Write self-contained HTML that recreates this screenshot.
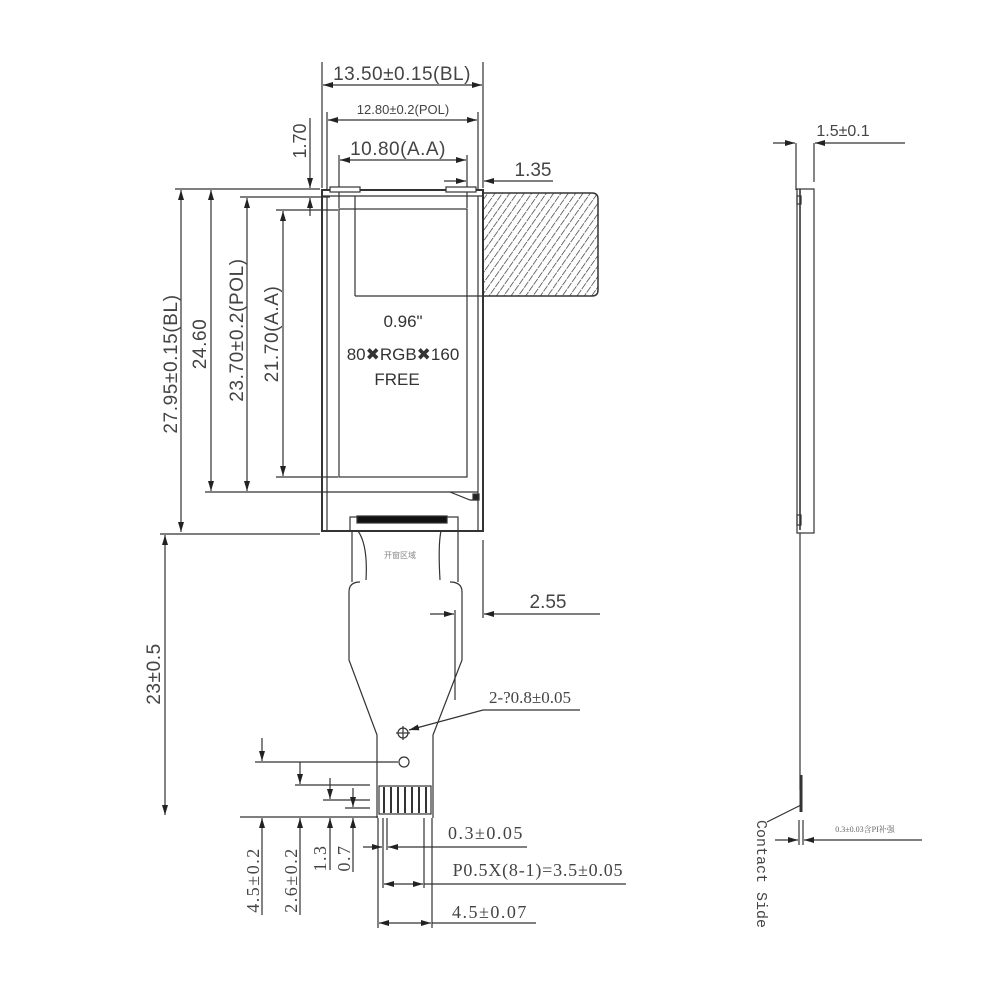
<!DOCTYPE html>
<html><head><meta charset="utf-8"><style>html,body{margin:0;padding:0;background:#fff}svg{display:block}</style></head>
<body>
<svg width="1002" height="1002" viewBox="0 0 1002 1002" xmlns="http://www.w3.org/2000/svg" font-family="Liberation Sans, DejaVu Sans, sans-serif" fill="none" stroke="#333" stroke-width="1.2">
<defs>
<marker id="a" viewBox="0 0 10 6" refX="10" refY="3" markerWidth="10" markerHeight="6" orient="auto-start-reverse" markerUnits="userSpaceOnUse"><path d="M0,0L10,3L0,6z" fill="#222" stroke="none"/></marker>
<pattern id="h" width="6" height="8" patternUnits="userSpaceOnUse" patternTransform="rotate(35)"><line x1="0" y1="0" x2="0" y2="8" stroke="#333" stroke-width="1.4" stroke-dasharray="7 1"/></pattern>
</defs>
<!-- top dims -->
<line x1="322" y1="62" x2="322" y2="188"/><line x1="483" y1="62" x2="483" y2="188"/>
<line x1="323" y1="85" x2="482" y2="85" marker-start="url(#a)" marker-end="url(#a)"/>
<text x="402" y="80" font-size="19" letter-spacing="0.5" fill="#444" stroke="none" text-anchor="middle">13.50±0.15(BL)</text>
<line x1="327" y1="112" x2="327" y2="190"/><line x1="478" y1="112" x2="478" y2="190"/>
<line x1="328" y1="120" x2="477" y2="120" marker-start="url(#a)" marker-end="url(#a)"/>
<text x="403" y="114" font-size="13" fill="#444" stroke="none" text-anchor="middle">12.80±0.2(POL)</text>
<line x1="339" y1="155" x2="339" y2="208"/><line x1="467" y1="155" x2="467" y2="208"/>
<line x1="340" y1="160" x2="466" y2="160" marker-start="url(#a)" marker-end="url(#a)"/>
<text x="398" y="155" font-size="19" letter-spacing="0.5" fill="#444" stroke="none" text-anchor="middle">10.80(A.A)</text>
<line x1="444" y1="181" x2="466" y2="181" marker-end="url(#a)"/>
<line x1="553" y1="181" x2="484" y2="181" marker-end="url(#a)"/>
<text x="533" y="176" font-size="19" fill="#444" stroke="none" text-anchor="middle">1.35</text>
<line x1="310" y1="118" x2="310" y2="188" marker-end="url(#a)"/>
<line x1="310" y1="216" x2="310" y2="198" marker-end="url(#a)"/>
<text transform="translate(306,141) rotate(-90)" font-size="18" fill="#444" stroke="none" text-anchor="middle">1.70</text>
<!-- panel -->
<rect x="322" y="190" width="161" height="341" stroke-width="2"/>
<line x1="322" y1="196" x2="483" y2="196"/>
<line x1="327" y1="196" x2="327" y2="531"/>
<line x1="478" y1="196" x2="478" y2="531"/>
<rect x="339" y="209" width="128" height="268"/>
<rect x="330" y="187" width="30" height="5" fill="#fff"/><rect x="446" y="187" width="30" height="5" fill="#fff"/>
<line x1="355" y1="196" x2="355" y2="296"/><line x1="355" y1="296" x2="483" y2="296"/>
<path d="M483,193 H592 Q598,193 598,199 V290 Q598,296 592,296 H483 Z" fill="url(#h)" stroke-width="1.5"/>
<line x1="322" y1="492" x2="478" y2="492"/>
<path d="M450,492 L470,500 L478,500" /><rect x="473" y="494" width="6" height="6" fill="#222"/>
<text x="403" y="327" font-size="17" fill="#333" stroke="none" text-anchor="middle">0.96"</text>
<text x="403" y="360" font-size="17" fill="#333" stroke="none" text-anchor="middle">80✖RGB✖160</text>
<text x="397" y="385" font-size="17" fill="#333" stroke="none" text-anchor="middle">FREE</text>
<!-- left dims -->
<line x1="175" y1="189" x2="320" y2="189"/><line x1="240" y1="197" x2="330" y2="197"/>
<line x1="276" y1="210" x2="338" y2="210"/><line x1="276" y1="477" x2="338" y2="477"/>
<line x1="205" y1="492" x2="322" y2="492"/><line x1="160" y1="534" x2="320" y2="534"/>
<line x1="181" y1="190" x2="181" y2="532" marker-start="url(#a)" marker-end="url(#a)"/>
<line x1="211" y1="190" x2="211" y2="491" marker-start="url(#a)" marker-end="url(#a)"/>
<line x1="247" y1="198" x2="247" y2="491" marker-start="url(#a)" marker-end="url(#a)"/>
<line x1="283" y1="211" x2="283" y2="476" marker-start="url(#a)" marker-end="url(#a)"/>
<g fill="#444" stroke="none" font-size="19" letter-spacing="0.6" text-anchor="middle">
<text transform="translate(177,364) rotate(-90)">27.95±0.15(BL)</text>
<text transform="translate(206,344) rotate(-90)">24.60</text>
<text transform="translate(243,330) rotate(-90)">23.70±0.2(POL)</text>
<text transform="translate(278,334) rotate(-90)">21.70(A.A)</text>
<text transform="translate(160,674) rotate(-90)">23±0.5</text>
</g>
<line x1="165" y1="535" x2="165" y2="815" marker-start="url(#a)" marker-end="url(#a)"/>
<!-- FPC -->
<rect x="350" y="517" width="108" height="14"/>
<rect x="357" y="516" width="90" height="7" fill="#111"/>
<path d="M352,531 V582 M458,531 V582"/>
<path d="M358,531 Q368,545 366,580 M441,531 Q438,545 440,580"/>
<path d="M360,582 Q349,582 349,592 V660 L377,735 V818 M450,582 Q462,582 462,592 V660 L433,735 V818"/>
<text x="400" y="558" font-size="8" fill="#888" stroke="none" text-anchor="middle">开窗区域</text>
<circle cx="403" cy="733" r="5"/><line x1="396" y1="733" x2="410" y2="733"/><line x1="403" y1="726" x2="403" y2="740"/>
<circle cx="404" cy="762" r="5"/>
<rect x="379" y="786" width="52" height="28" fill="#fff"/>
<g stroke-width="2"><line x1="384" y1="787" x2="384" y2="813"/><line x1="391" y1="787" x2="391" y2="813"/><line x1="398" y1="787" x2="398" y2="813"/><line x1="405" y1="787" x2="405" y2="813"/><line x1="412" y1="787" x2="412" y2="813"/><line x1="419" y1="787" x2="419" y2="813"/><line x1="426" y1="787" x2="426" y2="813"/></g>
<!-- 2.55 -->
<line x1="483" y1="540" x2="483" y2="618"/><line x1="455" y1="610" x2="455" y2="700"/>
<line x1="430" y1="614" x2="454" y2="614" marker-end="url(#a)"/>
<line x1="600" y1="614" x2="484" y2="614" marker-end="url(#a)"/>
<text x="548" y="608" font-size="19" fill="#444" stroke="none" text-anchor="middle">2.55</text>
<text x="530" y="703" font-size="17" fill="#444" stroke="none" font-family="Liberation Serif, serif" text-anchor="middle">2-?0.8±0.05</text>
<path d="M580,710 H483 L409,730" marker-end="url(#a)"/>
<!-- bottom left dims -->
<line x1="240" y1="817" x2="378" y2="817"/>
<line x1="255" y1="762" x2="398" y2="762"/><line x1="295" y1="785" x2="370" y2="785"/>
<line x1="323" y1="800" x2="370" y2="800"/><line x1="345" y1="808" x2="370" y2="808"/>
<line x1="262" y1="738" x2="262" y2="761" marker-end="url(#a)"/>
<line x1="300" y1="762" x2="300" y2="784" marker-end="url(#a)"/>
<line x1="330" y1="778" x2="330" y2="799" marker-end="url(#a)"/>
<line x1="353" y1="788" x2="353" y2="807" marker-end="url(#a)"/>
<line x1="262" y1="915" x2="262" y2="818" marker-end="url(#a)"/>
<line x1="300" y1="915" x2="300" y2="818" marker-end="url(#a)"/>
<line x1="330" y1="870" x2="330" y2="818" marker-end="url(#a)"/>
<line x1="353" y1="872" x2="353" y2="818" marker-end="url(#a)"/>
<g fill="#444" stroke="none" font-size="18" font-family="Liberation Serif, serif" text-anchor="middle" letter-spacing="1.5">
<text transform="translate(259,880) rotate(-90)">4.5±0.2</text>
<text transform="translate(297,880) rotate(-90)">2.6±0.2</text>
<text transform="translate(326,858) rotate(-90)">1.3</text>
<text transform="translate(350,858) rotate(-90)">0.7</text>
<text x="486" y="839">0.3±0.05</text>
<text x="538" y="876" letter-spacing="0.8">P0.5X(8-1)=3.5±0.05</text>
<text x="490" y="918">4.5±0.07</text>
</g>
<line x1="378" y1="818" x2="378" y2="928"/><line x1="432" y1="818" x2="432" y2="928"/>
<line x1="383" y1="818" x2="383" y2="888"/><line x1="387" y1="818" x2="387" y2="850"/><line x1="424" y1="818" x2="424" y2="888"/>
<line x1="363" y1="847" x2="382" y2="847" marker-end="url(#a)"/>
<line x1="527" y1="847" x2="388" y2="847" marker-end="url(#a)"/>
<line x1="384" y1="884" x2="423" y2="884" marker-start="url(#a)" marker-end="url(#a)"/>
<line x1="424" y1="884" x2="626" y2="884"/>
<line x1="379" y1="923" x2="431" y2="923" marker-start="url(#a)" marker-end="url(#a)"/>
<line x1="432" y1="923" x2="536" y2="923"/>
<!-- side view -->
<line x1="773" y1="143" x2="795" y2="143" marker-end="url(#a)"/>
<line x1="905" y1="143" x2="815" y2="143" marker-end="url(#a)"/>
<text x="843" y="136" font-size="16" fill="#444" stroke="none" text-anchor="middle">1.5±0.1</text>
<line x1="796" y1="143" x2="796" y2="190"/><line x1="814" y1="143" x2="814" y2="182"/>
<rect x="797" y="189" width="17" height="344"/>
<line x1="800" y1="189" x2="800" y2="530" stroke-width="1.6"/>
<rect x="797" y="196" width="4" height="8"/><rect x="797" y="515" width="4" height="10"/>
<line x1="800" y1="533" x2="800" y2="790"/>
<line x1="801" y1="775" x2="801" y2="812" stroke-width="3"/>
<line x1="801" y1="805" x2="767" y2="822"/>
<line x1="799" y1="820" x2="799" y2="845"/><line x1="803" y1="820" x2="803" y2="845"/>
<line x1="775" y1="840" x2="798" y2="840" marker-end="url(#a)"/>
<line x1="922" y1="840" x2="804" y2="840" marker-end="url(#a)"/>
<text x="865" y="832" font-size="8" fill="#666" stroke="none" font-family="Liberation Serif, Noto Serif CJK SC, serif" text-anchor="middle">0.3±0.03含PI补强</text>
<text transform="translate(757,820) rotate(90)" font-size="15" fill="#444" stroke="none" font-family="Liberation Mono, monospace">Contact Side</text>
</svg>
</body></html>
